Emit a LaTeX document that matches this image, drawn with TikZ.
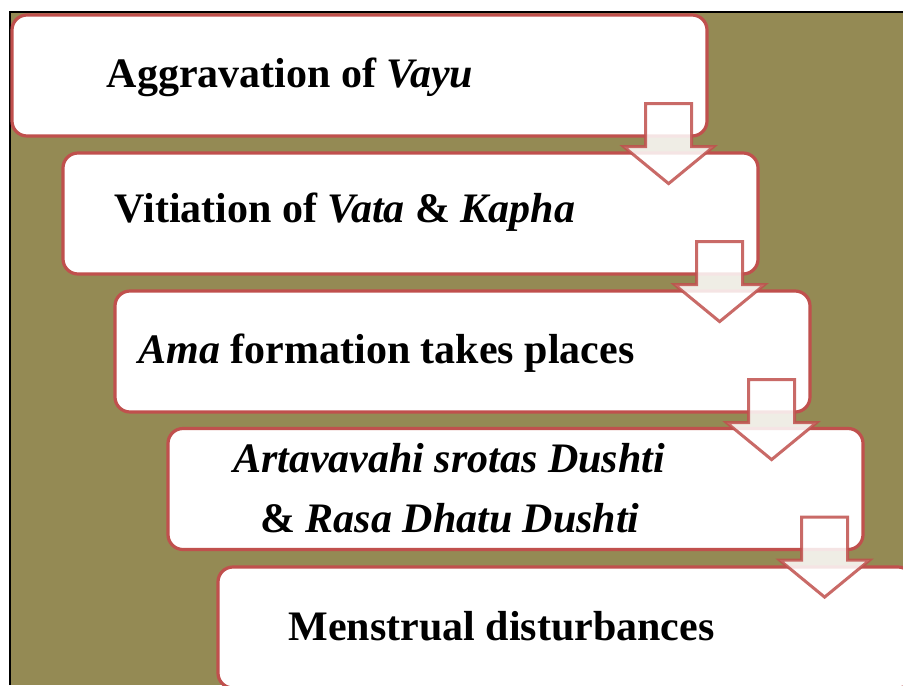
\documentclass[tikz,border=0pt]{standalone}
\usepackage{fontspec}
\setmainfont{Liberation Serif}
\usetikzlibrary{calc}
\definecolor{olivebg}{HTML}{948A54}
\definecolor{boxred}{HTML}{C0504D}
\newcommand{\stepArrow}[1]{
    \draw[steparrow] ($(#1.south east)+(-63,-34)$) -- ++(46,0) -- ++(0,43) -- ++(22,0) -- ++(-45,37) -- ++(-45,-37) -- ++(22,0) -- cycle
}

\begin{document}
\begin{tikzpicture}[x=0.5pt, y=-0.5pt,
        stepbox/.style={draw=boxred, line width=1.6pt, fill=white, rounded corners=7.5pt, minimum width=347.5pt, minimum height=60.5pt, inner sep=0pt},
        steptext/.style={anchor=base, inner sep=0pt, font=\fontsize{21}{30}\selectfont\bfseries},
        steparrow/.style={draw=boxred, draw opacity=0.85, line width=1.5pt, fill=white, fill opacity=0.85, line join=miter}]
            \useasboundingbox (0,0) rectangle (903,685);
            \clip (0,0) rectangle (903,685);
            \fill[olivebg] (10,12) rectangle (903,685);
            \draw[line width=1pt] (10,685) -- (10,12) -- (903,12);

            \node[stepbox] (vayu) at (359.5,75.5) {};
            \node[stepbox] (vata) at (410.5,213.5) {};
            \node[stepbox] (ama) at (462.5,351.5) {};
            \node[stepbox] (srotas) at (515.5,489) {};
            \node[stepbox] (menses) at (565.5,627.5) {};

            \node[steptext] (vayutext) at (290,87) {Aggravation of \textit{Vayu}};
            \node[steptext] (vatatext) at (345,222) {Vitiation of \textit{Vata} \& \textit{Kapha}};
            \node[steptext] (amatext) at (386.5,363) {\textit{Ama} formation takes places};
            \node[steptext] (srotastext) at (449,472) {\textit{Artavavahi srotas Dushti}};
            \node[steptext] (dhatutext) at (450,532) {\& \textit{Rasa Dhatu Dushti}};
            \node[steptext] (mensestext) at (501.5,640) {Menstrual disturbances};

            \stepArrow{vayu};
            \stepArrow{vata};
            \stepArrow{ama};
            \stepArrow{srotas};
        \end{tikzpicture}
\end{document}
